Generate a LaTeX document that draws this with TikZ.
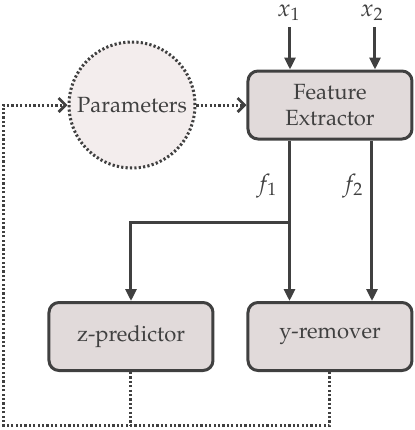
\documentclass[tikz,border=0pt]{standalone}
\usepackage[T1]{fontenc}
\usepackage{mathpazo}
\usetikzlibrary{arrows.meta}
\definecolor{ln}{HTML}{404040}
\definecolor{boxfill}{HTML}{E1DADA}
\definecolor{circfill}{HTML}{F3EDED}
\begin{document}
\begin{tikzpicture}[x=0.5pt,y=-0.5pt,
  font=\fontsize{11}{13.2}\selectfont, text=ln,
  blk/.style={draw=ln, line width=1.5pt, fill=boxfill, rounded corners=5pt,
    minimum width=82pt, minimum height=34pt, align=center, inner sep=0pt},
  arr/.style={draw=ln, line width=1.5pt, -{Triangle[length=6pt,width=5.5pt]}},
  dotl/.style={draw=ln, line width=1.5pt, dash pattern=on 1.1pt off 1.1pt},
  darr/.style={dotl, -{Straight Barb[length=3.5pt,width=7pt,line width=1.4pt]}},
  lbl/.style={inner sep=0pt, font=\fontsize{12}{14}\selectfont}]
\useasboundingbox (0,0) rectangle (415,430);
\node[blk] (fe) at (330,105) {Feature\\Extractor};
\node[blk] (zp) at (131,336.5) {z-predictor};
\node[blk] (yr) at (330,336.5) {y-remover};
\node[circle, dotl, fill=circfill, minimum size=63pt, inner sep=0pt] (par) at (132,105) {Parameters};
\node[lbl] (x1) at (289,13) {$x_1$};
\node[lbl] (x2) at (372,13) {$x_2$};
\node[lbl] (f1) at (267,186) {$f_1$};
\node[lbl] (f2) at (353,186) {$f_2$};
\coordinate (c1) at (290,27);
\coordinate (c2) at (375,27);
\coordinate (j) at (289.5,222);
\coordinate (b) at (3,425);
\draw[arr] (c1) -- (c1 |- fe.north);
\draw[arr] (c2) -- (c2 |- fe.north);
\draw[arr] (j |- fe.south) -- (j |- yr.north);
\draw[arr] (372,0 |- fe.south) -- (372,0 |- yr.north);
\draw[arr] (j) -| (zp.north);
\draw[darr] (par.east) -- (fe.west);
\draw[darr] (yr.south) |- (b) |- (par.west);
\draw[dotl] (zp.south) -- (zp.south |- b);
\end{tikzpicture}
\end{document}
